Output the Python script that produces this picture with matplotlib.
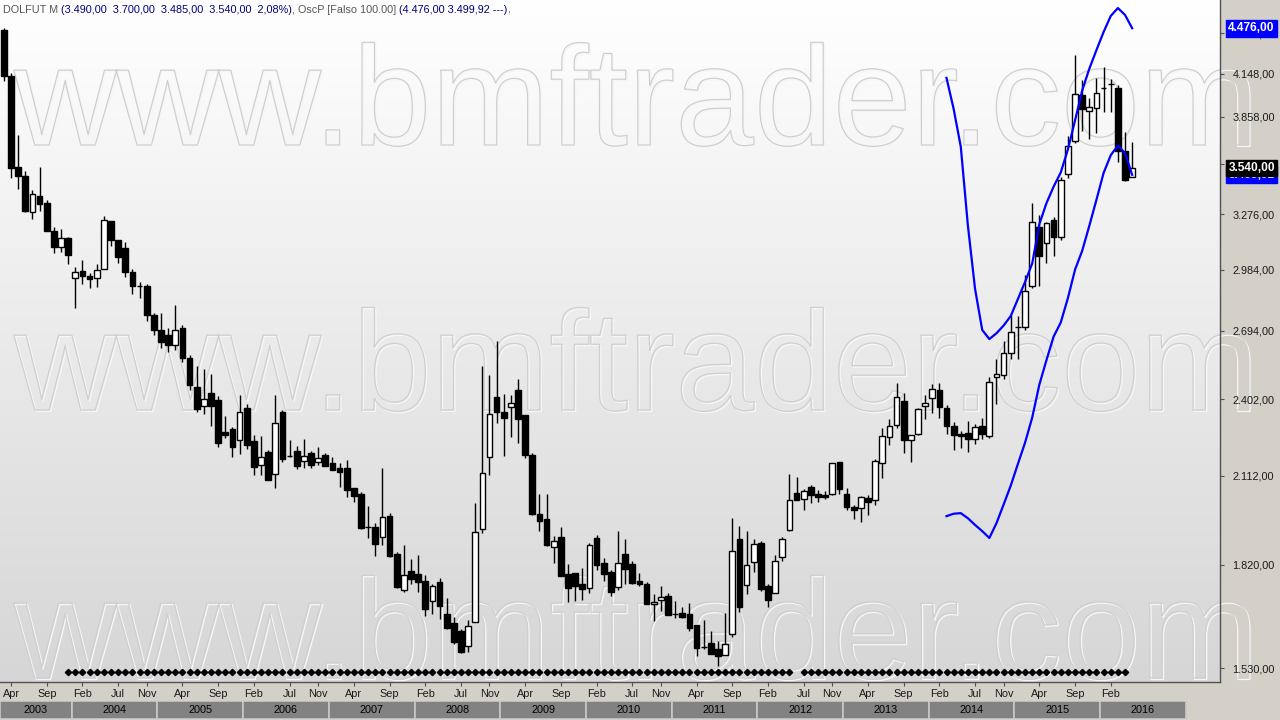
import matplotlib
matplotlib.use("Agg")
import matplotlib.pyplot as plt
import matplotlib.patheffects as pe
from matplotlib.colors import LinearSegmentedColormap
from matplotlib.patches import Rectangle
from matplotlib.ticker import NullLocator
import numpy as np
import pandas as pd

plt.rcParams["font.family"] = ["Liberation Sans", "DejaVu Sans"]

# monthly DOLFUT bars, first bar is Mar 2003
first_month = "2003-03"

opens = [
    4463, 4134, 3546, 3493, 3290, 3378, 3338, 3185, 3102, 3148,
    2942, 2978, 2953, 2942, 2986, 3239, 3137, 3095, 2973, 2904,
    2905, 2767, 2698, 2676, 2631, 2707, 2574, 2453, 2376, 2427,
    2399, 2272, 2285, 2242, 2366, 2239, 2150, 2199, 2118, 2352,
    2182, 2202, 2166, 2195, 2163, 2188, 2158, 2140, 2140, 2070,
    2050, 1938, 1939, 1907, 1974, 1853, 1743, 1800, 1791, 1770,
    1711, 1767, 1674, 1649, 1628, 1587, 1654, 1931, 2181, 2411,
    2351, 2369, 2438, 2339, 2188, 1981, 1964, 1874, 1907, 1791,
    1794, 1761, 1749, 1904, 1825, 1797, 1753, 1852, 1821, 1769,
    1763, 1703, 1714, 1727, 1676, 1677, 1676, 1644, 1584, 1596,
    1580, 1565, 1619, 1900, 1759, 1827, 1888, 1755, 1736, 1844,
    1928, 2053, 2030, 2073, 2049, 2046, 2049, 2160, 2049, 2006,
    2000, 2034, 2027, 2157, 2255, 2301, 2395, 2242, 2267, 2373,
    2406, 2438, 2366, 2298, 2266, 2269, 2246, 2298, 2259, 2495,
    2503, 2595, 2710, 2710, 2902, 3205, 3120, 3242, 3155, 3503,
    3707, 4001, 3898, 3913, 4052, 4077, 4047, 3643, 3490]

highs = [
    4475, 4150, 3742, 3522, 3412, 3546, 3355, 3208, 3195, 3153,
    2997, 3034, 2967, 3013, 3266, 3239, 3137, 3125, 2988, 2924,
    2913, 2776, 2776, 2707, 2813, 2720, 2587, 2540, 2527, 2506,
    2415, 2336, 2293, 2419, 2383, 2262, 2258, 2204, 2419, 2359,
    2243, 2221, 2247, 2202, 2217, 2196, 2181, 2157, 2169, 2070,
    2054, 2008, 1952, 2140, 1985, 1860, 1881, 1837, 1849, 1788,
    1761, 1780, 1722, 1667, 1634, 1658, 2019, 2540, 2502, 2649,
    2423, 2419, 2485, 2339, 2195, 2049, 2048, 1910, 1939, 1821,
    1794, 1810, 1887, 1913, 1840, 1803, 1926, 1899, 1830, 1793,
    1767, 1732, 1755, 1736, 1712, 1695, 1705, 1644, 1658, 1628,
    1601, 1677, 1967, 1942, 1926, 1899, 1894, 1761, 1849, 1907,
    2117, 2107, 2065, 2079, 2063, 2059, 2157, 2163, 2070, 2011,
    2043, 2045, 2174, 2287, 2324, 2470, 2428, 2261, 2368, 2419,
    2464, 2468, 2379, 2311, 2277, 2316, 2304, 2328, 2493, 2569,
    2649, 2767, 2762, 2959, 3336, 3271, 3235, 3262, 3486, 3736,
    4279, 4104, 3981, 4118, 4194, 4107, 4070, 3761, 3700]

lows = [
    4099, 3483, 3418, 3290, 3249, 3295, 3186, 3071, 3077, 3015,
    2801, 2914, 2896, 2901, 2986, 3107, 3020, 2950, 2865, 2848,
    2740, 2676, 2618, 2600, 2609, 2556, 2439, 2351, 2343, 2298,
    2218, 2252, 2181, 2190, 2211, 2115, 2115, 2097, 2071, 2163,
    2180, 2138, 2140, 2140, 2151, 2147, 2133, 2074, 2040, 2022,
    1933, 1904, 1847, 1881, 1844, 1749, 1739, 1763, 1739, 1670,
    1674, 1662, 1633, 1593, 1568, 1572, 1654, 1918, 2114, 2309,
    2185, 2255, 2233, 2175, 1979, 1927, 1879, 1824, 1785, 1710,
    1713, 1715, 1734, 1803, 1771, 1727, 1745, 1763, 1762, 1756,
    1703, 1656, 1684, 1672, 1663, 1665, 1628, 1562, 1579, 1567,
    1536, 1565, 1613, 1680, 1733, 1796, 1742, 1696, 1736, 1832,
    1925, 2029, 1996, 2019, 2022, 2031, 2045, 2050, 1993, 1963,
    1955, 1978, 2012, 2106, 2224, 2287, 2196, 2163, 2263, 2325,
    2348, 2329, 2266, 2204, 2214, 2200, 2227, 2248, 2252, 2384,
    2484, 2569, 2569, 2698, 2894, 2902, 3017, 3056, 3137, 3480,
    3695, 3769, 3717, 3756, 3891, 3891, 3578, 3462, 3485]

closes = [
    4134, 3542, 3495, 3294, 3387, 3334, 3186, 3102, 3146, 3061,
    2973, 2955, 2940, 2981, 3244, 3139, 3051, 2975, 2902, 2904,
    2768, 2698, 2644, 2631, 2698, 2574, 2460, 2364, 2403, 2376,
    2233, 2262, 2215, 2351, 2224, 2145, 2179, 2098, 2307, 2173,
    2182, 2147, 2184, 2151, 2176, 2148, 2134, 2127, 2061, 2043,
    1935, 1938, 1885, 1970, 1846, 1752, 1787, 1777, 1768, 1690,
    1755, 1698, 1637, 1599, 1572, 1642, 1922, 2121, 2342, 2350,
    2329, 2386, 2325, 2189, 1982, 1959, 1882, 1894, 1785, 1751,
    1756, 1748, 1881, 1820, 1790, 1739, 1824, 1807, 1765, 1762,
    1703, 1708, 1723, 1672, 1676, 1667, 1635, 1582, 1584, 1567,
    1562, 1593, 1862, 1696, 1818, 1885, 1748, 1716, 1830, 1900,
    2027, 2029, 2058, 2046, 2040, 2040, 2157, 2066, 2006, 1994,
    2037, 2021, 2164, 2257, 2297, 2410, 2244, 2261, 2363, 2386,
    2442, 2372, 2296, 2263, 2259, 2245, 2291, 2264, 2473, 2506,
    2595, 2688, 2710, 2880, 3232, 3056, 3226, 3155, 3470, 3674,
    4008, 3911, 3920, 4012, 4052, 4077, 3641, 3468, 3540]

# OscP bands, drawn from Mar 2014 on
osc_first = "2014-03"
osc_upper = [4118, 3909, 3669, 3212, 2890, 2698, 2657, 2683, 2718, 2762,
             2842, 2924, 3016, 3222, 3338, 3431, 3514, 3652, 3834, 4032,
             4182, 4315, 4448, 4569, 4630, 4577, 4476]
osc_lower = [1974, 1982, 1984, 1967, 1945, 1925, 1903, 1951, 2013, 2078,
             2155, 2233, 2329, 2461, 2565, 2668, 2732, 2846, 2985, 3081,
             3213, 3357, 3511, 3617, 3677, 3630, 3499.92]

# bars flagged with a diamond at the bottom
signal_runs = [("2003-12", "2012-05"), ("2012-07", "2016-04")]

price_ticks = [1530, 1820, 2112, 2402, 2694, 2984, 3276, 3566, 3858, 4148, 4440]
month_ticks = ["2003-04", "2003-09", "2004-02", "2004-07", "2004-11",
               "2005-04", "2005-09", "2006-02", "2006-07", "2006-11",
               "2007-04", "2007-09", "2008-02", "2008-07", "2008-11",
               "2009-04", "2009-09", "2010-02", "2010-07", "2010-11",
               "2011-04", "2011-09", "2012-02", "2012-07", "2012-11",
               "2013-04", "2013-09", "2014-02", "2014-07", "2014-11",
               "2015-04", "2015-09", "2016-02"]
years = list(range(2003, 2017))


def br(v):
    s = f"{v:,.2f}"
    return s.replace(",", "X").replace(".", ",").replace("X", ".")


p0 = pd.Period(first_month, "M")


def midx(s):
    return (pd.Period(s, "M") - p0).n


o = np.array(opens, float)
h = np.array(highs, float)
l = np.array(lows, float)
c = np.array(closes, float)
idx = np.arange(len(c))
up = c >= o

W, H = 1280, 720
PB = 682      # bottom of price pane in px
PR = 1220     # right edge of price pane in px
XLIM = (-0.55, 170.3)
YLIM = (1494.5, 4693)

fig = plt.figure(figsize=(W / 100, H / 100), dpi=100, facecolor="#d4d0c8")

# background: gradient + watermark
ax_bg = fig.add_axes([0, (H - PB) / H, 1, PB / H], zorder=0)
grad = np.linspace(0, 1, 256).reshape(-1, 1)
cmap = LinearSegmentedColormap.from_list("bg", ["#ffffff", "#d6d6d6"])
ax_bg.imshow(grad, cmap=cmap, extent=[0, PR, PB, 0], aspect="auto",
             interpolation="bilinear")
ax_bg.set_xlim(0, W)
ax_bg.set_ylim(PB, 0)
ax_bg.axis("off")
for base in (145, 410, 678):
    ax_bg.text(14, base, "www.bmftrader.com", fontsize=102, color=(1, 1, 1, 0),
               ha="left", va="baseline",
               path_effects=[pe.Stroke(linewidth=1.0, foreground="#f6f6f6", offset=(1, -1)),
                             pe.Stroke(linewidth=0.9, foreground="#cfcfcf")])

# price pane
ax = fig.add_axes([0, (H - PB) / H, PR / W, PB / H], zorder=2)
ax.patch.set_visible(False)
ax.set_yscale("log")
ax.set_xlim(*XLIM)
ax.set_ylim(*YLIM)

ax.vlines(idx, l, h, color="black", lw=1, zorder=3)
bot = np.minimum(o, c)
top = np.maximum(o, c)
ax.bar(idx, top - bot, bottom=bot, width=0.8,
       color=np.where(up, "white", "black"), edgecolor="black", linewidth=1, zorder=4)

osc_idx = midx(osc_first) + np.arange(len(osc_upper))
ax.plot(osc_idx, osc_upper, color="#0000ff", lw=1.6, zorder=5)
ax.plot(osc_idx, osc_lower, color="#0000ff", lw=1.6, zorder=5)

sig = np.concatenate([np.arange(midx(a), midx(b) + 1) for a, b in signal_runs])
ax.plot(sig, np.full(len(sig), 1520.0), ls="none", marker="D", ms=3.2,
        color="black", zorder=5, clip_on=False)

for side in ("top", "left"):
    ax.spines[side].set_visible(False)
for side in ("right", "bottom"):
    ax.spines[side].set_color("#505050")
    ax.spines[side].set_linewidth(1)

ax.yaxis.tick_right()
ax.yaxis.set_minor_locator(NullLocator())
ax.set_yticks(price_ticks)
ax.set_yticklabels([br(v) for v in price_ticks])
ax.tick_params(axis="y", direction="out", length=3, width=0.8, color="#505050",
               pad=6, labelsize=7.8, labelcolor="#1a1a1a")

ax.xaxis.set_minor_locator(NullLocator())
ax.set_xticks([midx(m) for m in month_ticks])
ax.set_xticklabels([pd.Period(m, "M").strftime("%b") for m in month_ticks])
ax.tick_params(axis="x", direction="out", length=3, width=0.8, color="#505050",
               pad=2, labelsize=7.8, labelcolor="#1a1a1a")

# last-value tags on the price scale
ytr = ax.get_yaxis_transform()


def tag(val, fc, z):
    ax.text(1.0068, val, br(val), transform=ytr, ha="left", va="center",
            fontsize=8.6, fontweight="bold", color="white", zorder=z, clip_on=False,
            bbox=dict(boxstyle="square,pad=0.2", fc=fc, ec=fc))


tag(osc_lower[-1], "#0000ff", 6)
tag(closes[-1], "black", 7)
tag(osc_upper[-1], "#0000ff", 6)

# year bar
ax_yr = fig.add_axes([0, 1 / H, PR / W, 18 / H], zorder=2)
ax_yr.set_xlim(*XLIM)
ax_yr.set_ylim(0, 1)
ax_yr.axis("off")
for yr in years:
    x0 = max(midx(f"{yr}-01") - 0.5, XLIM[0])
    x1 = min(midx(f"{yr + 1}-01") - 0.5, XLIM[1])
    ax_yr.add_patch(Rectangle((x0, 0), x1 - x0, 1, fc="#828282", ec="#c8c8c8", lw=1.2))
    ax_yr.text((x0 + x1) / 2, 0.48, str(yr), ha="center", va="center",
               fontsize=7.8, color="black")

# header line
chg = (c[-1] / c[-2] - 1) * 100
parts = [("DOLFUT M ", "#555555"),
         (f"({br(o[-1])}  {br(h[-1])}  {br(l[-1])}  {br(c[-1])}  {br(chg)}%)", "#00007a"),
         (", OscP [Falso 100.00] ", "#555555"),
         (f"({br(osc_upper[-1])} {br(osc_lower[-1])} ---)", "#00007a"),
         (",", "#555555")]
renderer = fig.canvas.get_renderer()
xpos = 3
for txt, col in parts:
    t = fig.text(xpos / W, 1 - 10 / H, txt, color=col, fontsize=7.8,
                 ha="left", va="center", zorder=10)
    xpos += t.get_window_extent(renderer).width

fig.savefig("out.png", dpi=100, facecolor=fig.get_facecolor())
